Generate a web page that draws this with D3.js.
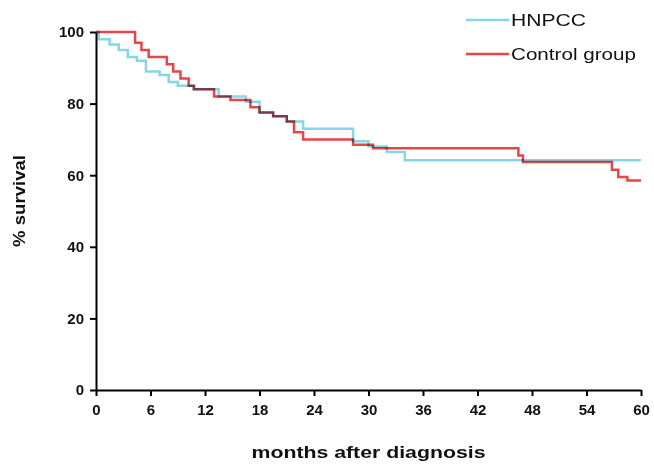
<!DOCTYPE html>
<html>
<head>
<meta charset="utf-8">
<script src="https://cdn.jsdelivr.net/npm/d3@7"></script>
<style>
  body { margin: 0; background: #fff; }
  svg { display: block; font-family: "Liberation Sans", Arial, sans-serif; }
  .axis path, .axis line { stroke: #000; stroke-width: 2; }
  .axis text { font-size: 15px; font-weight: bold; fill: #111; }
  .curve { fill: none; stroke-width: 2.5; mix-blend-mode: multiply; }
</style>
</head>
<body>
<script>
// months after diagnosis / % survival
const hnpccMonths = [0, 0.3, 1.5, 2.5, 3.5, 4.5, 5.5, 7.0, 8.0, 9.0, 10.7, 13.5, 16.5, 18.0, 19.5, 21.0, 22.8, 28.3, 30.0, 32.0, 34.0, 60];
const hnpccSurvival = [100, 98, 96.5, 95, 93, 92, 89, 88, 86, 85, 84, 82, 80.5, 77.5, 76.5, 75, 73, 69.5, 68, 66.5, 64.2, 64.2];

const controlMonths = [0, 4.3, 5.0, 5.8, 7.8, 8.5, 9.3, 10.2, 10.8, 13.0, 14.8, 17.0, 18.0, 19.5, 21.0, 21.8, 22.8, 28.3, 30.5, 46.5, 47.0, 56.8, 57.5, 58.5, 60];
const controlSurvival = [100, 97, 95, 93, 91, 89, 87, 85, 84, 82, 81, 79, 77.5, 76.5, 75, 72, 70, 68.5, 67.5, 65.5, 63.7, 61.5, 59.5, 58.5, 58.5];

const xTicks = [0, 6, 12, 18, 24, 30, 36, 42, 48, 54, 60];
const yTicks = [0, 20, 40, 60, 80, 100];

const seriesNames = ["HNPCC", "Control group"];
const seriesColors = ["#86d6e6", "#e4464c"];

const width = 654, height = 465;
const margin = {top: 32, right: 13, bottom: 75, left: 96};

const svg = d3.select("body").append("svg")
    .attr("width", width)
    .attr("height", height);

const x = d3.scaleLinear().domain([0, 60]).range([margin.left, width - margin.right]);
const y = d3.scaleLinear().domain([0, 100]).range([height - margin.bottom, margin.top]);

const series = [
  {name: seriesNames[0], color: seriesColors[0], values: hnpccMonths.map((m, i) => [m, hnpccSurvival[i]])},
  {name: seriesNames[1], color: seriesColors[1], values: controlMonths.map((m, i) => [m, controlSurvival[i]])}
];

const line = d3.line()
    .x(d => x(d[0]))
    .y(d => y(d[1]))
    .curve(d3.curveStepAfter);

// draw control first, HNPCC on top; multiply blend darkens the overlap
svg.selectAll(".curve")
  .data(series.slice().reverse())
  .enter().append("path")
    .attr("class", "curve")
    .attr("stroke", d => d.color)
    .attr("d", d => line(d.values));

svg.append("g")
    .attr("class", "axis")
    .attr("transform", `translate(0,${height - margin.bottom})`)
    .call(d3.axisBottom(x).tickValues(xTicks).tickSize(6).tickPadding(8).tickSizeOuter(0));

svg.append("g")
    .attr("class", "axis")
    .attr("transform", `translate(${margin.left},0)`)
    .call(d3.axisLeft(y).tickValues(yTicks).tickSize(6).tickPadding(6).tickSizeOuter(0));

// the original lettering is wide, so stretch titles to the measured widths
svg.append("text")
    .attr("x", (margin.left + width - margin.right) / 2)
    .attr("y", 458)
    .attr("text-anchor", "middle")
    .attr("font-size", 16)
    .attr("font-weight", "bold")
    .attr("fill", "#111")
    .attr("textLength", 234)
    .attr("lengthAdjust", "spacingAndGlyphs")
    .text("months after diagnosis");

svg.append("text")
    .attr("transform", "translate(25,201) rotate(-90)")
    .attr("text-anchor", "middle")
    .attr("font-size", 16)
    .attr("font-weight", "bold")
    .attr("fill", "#111")
    .attr("textLength", 92)
    .attr("lengthAdjust", "spacingAndGlyphs")
    .text("% survival");

const legend = svg.append("g")
    .selectAll("g")
    .data(series)
    .enter().append("g")
      .attr("transform", (d, i) => `translate(466,${20 + i * 34})`);

legend.append("line")
    .attr("x1", 0).attr("x2", 43)
    .attr("stroke", d => d.color)
    .attr("stroke-width", 2.5);

legend.append("text")
    .attr("x", 45)
    .attr("dy", "0.35em")
    .attr("font-size", 16)
    .attr("fill", "#111")
    .attr("textLength", (d, i) => [75, 125][i])
    .attr("lengthAdjust", "spacingAndGlyphs")
    .text(d => d.name);
</script>
</body>
</html>
